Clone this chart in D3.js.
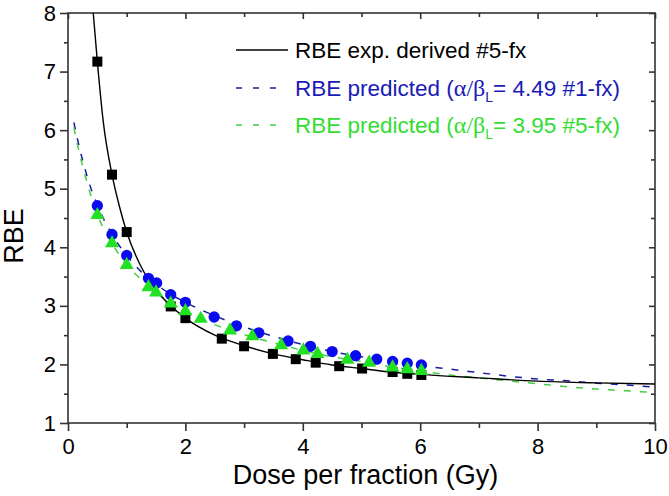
<!DOCTYPE html>
<html>
<head>
<meta charset="utf-8">
<script src="https://cdn.jsdelivr.net/npm/d3@7"></script>
<style>
  body { margin: 0; background: #fff; }
  svg text { font-family: "Liberation Sans", Arial, sans-serif; }
  .axis path, .axis line { stroke: #333; stroke-width: 1.6; }
  .axis text { font-size: 22px; fill: #000; font-family: "Liberation Sans", Arial, sans-serif; }
</style>
</head>
<body>
<svg id="chart" width="669" height="496"></svg>
<script>
// measured points, RBE exp. derived #5-fx (black squares)
const expDose = [0.5, 0.75, 1.0, 1.75, 2.0, 2.62, 3.0, 3.49, 3.88, 4.22, 4.62, 5.01, 5.53, 5.78, 6.02];
const expRBE  = [7.17, 5.24, 4.26, 2.99, 2.79, 2.44, 2.31, 2.18, 2.09, 2.03, 1.97, 1.93, 1.87, 1.84, 1.82];

// predicted, a/b = 4.49 (#1-fx) blue circles
const blueDose = [0.5, 0.75, 1.0, 1.37, 1.51, 1.75, 2.0, 2.49, 2.87, 3.25, 3.75, 4.13, 4.5, 4.9, 5.26, 5.53, 5.78, 6.02];
const blueRBE  = [4.71, 4.22, 3.86, 3.47, 3.39, 3.19, 3.06, 2.81, 2.66, 2.54, 2.40, 2.31, 2.22, 2.15, 2.09, 2.05, 2.02, 1.99];

// predicted, a/b = 3.95 (#5-fx) green triangles
const greenDose = [0.5, 0.75, 1.0, 1.37, 1.5, 1.75, 2.0, 2.26, 2.76, 3.14, 3.63, 4.01, 4.25, 4.76, 5.13, 5.53, 5.78, 6.02];
const greenRBE  = [4.55, 4.07, 3.70, 3.32, 3.23, 3.04, 2.91, 2.78, 2.58, 2.48, 2.33, 2.24, 2.18, 2.08, 2.03, 1.95, 1.92, 1.89];

// curves
const curveExpX = [0.43, 0.5, 0.6, 0.75, 0.875, 1.0, 1.25, 1.5, 1.75, 2.0, 2.5, 3.0, 3.5, 4.0, 4.5, 5.0, 5.5, 6.0, 7.0, 8.0, 9.0, 10.0];
const curveExpY = [8.0, 7.17, 6.15, 5.24, 4.7, 4.26, 3.66, 3.27, 3.0, 2.79, 2.5, 2.32, 2.18, 2.08, 1.99, 1.93, 1.87, 1.83, 1.77, 1.715, 1.685, 1.665];

const curveBlueX = [0.1, 0.2, 0.3, 0.4, 0.5, 0.75, 1.0, 1.25, 1.5, 1.75, 2.0, 2.5, 3.0, 3.5, 4.0, 4.5, 5.0, 5.5, 6.0, 6.5, 7.0, 7.5, 8.0, 8.5, 9.0, 9.5, 10.0];
const curveBlueY = [6.13, 5.68, 5.3, 4.98, 4.72, 4.22, 3.86, 3.58, 3.37, 3.2, 3.06, 2.83, 2.64, 2.48, 2.34, 2.22, 2.13, 2.05, 1.98, 1.92, 1.86, 1.8, 1.75, 1.72, 1.68, 1.65, 1.61];

const curveGreenX = [0.1, 0.2, 0.3, 0.4, 0.5, 0.75, 1.0, 1.25, 1.5, 1.75, 2.0, 2.5, 3.0, 3.5, 4.0, 4.5, 5.0, 5.5, 6.0, 6.5, 7.0, 7.5, 8.0, 8.5, 9.0, 9.5, 10.0];
const curveGreenY = [6.05, 5.58, 5.2, 4.85, 4.56, 4.07, 3.70, 3.45, 3.23, 3.05, 2.91, 2.68, 2.51, 2.37, 2.24, 2.13, 2.05, 1.96, 1.89, 1.82, 1.77, 1.72, 1.67, 1.62, 1.58, 1.55, 1.52];

const xMajor = [0, 2, 4, 6, 8, 10];
const xMinor = [1, 3, 5, 7, 9];
const yMajor = [1, 2, 3, 4, 5, 6, 7, 8];
const yMinor = [1.5, 2.5, 3.5, 4.5, 5.5, 6.5, 7.5];

const svg = d3.select('#chart');
const pLeft = 68, pRight = 655, pTop = 13, pBottom = 423;

const x = d3.scaleLinear().domain([0, 10]).range([pLeft, pRight]);
const y = d3.scaleLinear().domain([1, 8]).range([pBottom, pTop]);

svg.append('defs').append('clipPath').attr('id', 'plot')
  .append('rect').attr('x', pLeft).attr('y', pTop).attr('width', pRight - pLeft).attr('height', pBottom - pTop);

// axes
function axis(gen, tx, ty) {
  const g = svg.append('g').attr('class', 'axis').attr('transform', `translate(${tx},${ty})`).call(gen);
  g.select('.domain').remove();
  return g;
}
axis(d3.axisBottom(x).tickValues(xMajor).tickSize(8).tickPadding(7).tickFormat(d3.format('d')), 0, pBottom);
axis(d3.axisBottom(x).tickValues(xMinor).tickSize(5).tickFormat(''), 0, pBottom);
axis(d3.axisLeft(y).tickValues(yMajor).tickSize(8).tickPadding(4).tickFormat(d3.format('d')), pLeft, 0);
axis(d3.axisLeft(y).tickValues(yMinor).tickSize(4).tickFormat(''), pLeft, 0);
axis(d3.axisTop(x).tickValues(xMajor).tickSize(-6).tickFormat(''), 0, pTop);
axis(d3.axisTop(x).tickValues(xMinor).tickSize(-4).tickFormat(''), 0, pTop);
axis(d3.axisRight(y).tickValues(yMajor).tickSize(-6).tickFormat(''), pRight, 0);
axis(d3.axisRight(y).tickValues(yMinor).tickSize(-4).tickFormat(''), pRight, 0);

svg.append('rect')
  .attr('x', pLeft).attr('y', pTop).attr('width', pRight - pLeft).attr('height', pBottom - pTop)
  .attr('fill', 'none').attr('stroke', '#333').attr('stroke-width', 1.6);

// axis titles
svg.append('text')
  .attr('x', (pLeft + pRight) / 2 + 4).attr('y', 484)
  .attr('text-anchor', 'middle').attr('font-size', 27)
  .text('Dose per fraction (Gy)');
svg.append('text')
  .attr('transform', 'translate(23,236) rotate(-90)')
  .attr('text-anchor', 'middle').attr('font-size', 27)
  .text('RBE');

// curves
const line = d3.line().x(d => x(d[0])).y(d => y(d[1])).curve(d3.curveMonotoneX);
const plot = svg.append('g').attr('clip-path', 'url(#plot)');

plot.append('path').datum(d3.zip(curveBlueX, curveBlueY))
  .attr('d', line).attr('fill', 'none').attr('stroke', '#1a1aa0')
  .attr('stroke-width', 1.5).attr('stroke-dasharray', '7,9');
plot.append('path').datum(d3.zip(curveGreenX, curveGreenY))
  .attr('d', line).attr('fill', 'none').attr('stroke', '#44cc44')
  .attr('stroke-width', 1.5).attr('stroke-dasharray', '7,9');
plot.append('path').datum(d3.zip(curveExpX, curveExpY))
  .attr('d', line).attr('fill', 'none').attr('stroke', '#000')
  .attr('stroke-width', 1.4);

// markers
function markers(xs, ys, type, size, color) {
  plot.append('g').selectAll('path')
    .data(d3.zip(xs, ys))
    .join('path')
    .attr('transform', d => `translate(${x(d[0])},${y(d[1])})`)
    .attr('d', d3.symbol().type(type).size(size))
    .attr('fill', color);
}
markers(expDose, expRBE, d3.symbolSquare, 100, '#000');
markers(blueDose, blueRBE, d3.symbolCircle, 100, '#0a0af0');
markers(greenDose, greenRBE, d3.symbolTriangle, 85, '#22e022');

// legend
const legendRows = [
  { y: 50, color: '#000', dash: null, text: 'RBE exp. derived #5-fx' },
  { y: 88, color: '#1a1ab8', line: '#1a1aa0', dash: '6,11', text: 'RBE predicted (', ab: '4.49 #1-fx)' },
  { y: 125, color: '#33dd33', line: '#44cc44', dash: '6,11', text: 'RBE predicted (', ab: '3.95 #5-fx)' }
];
const lg = svg.append('g');
legendRows.forEach(r => {
  lg.append('line')
    .attr('x1', 236).attr('x2', r.dash ? 280 : 288).attr('y1', r.y).attr('y2', r.y)
    .attr('stroke', r.line || r.color).attr('stroke-width', 1.5)
    .attr('stroke-dasharray', r.dash);
  const t = lg.append('text').attr('x', 295).attr('y', r.y + 8).attr('font-size', 22.5).attr('fill', r.color);
  t.append('tspan').text(r.text);
  if (r.ab) {
    t.append('tspan').attr('font-family', '"Liberation Serif", serif').attr('font-size', 24).text('\u03b1/\u03b2');
    t.append('tspan').attr('font-size', 14).attr('dy', 6).text('L');
    t.append('tspan').attr('dy', -6).text('= ' + r.ab);
  }
});
</script>
</body>
</html>
